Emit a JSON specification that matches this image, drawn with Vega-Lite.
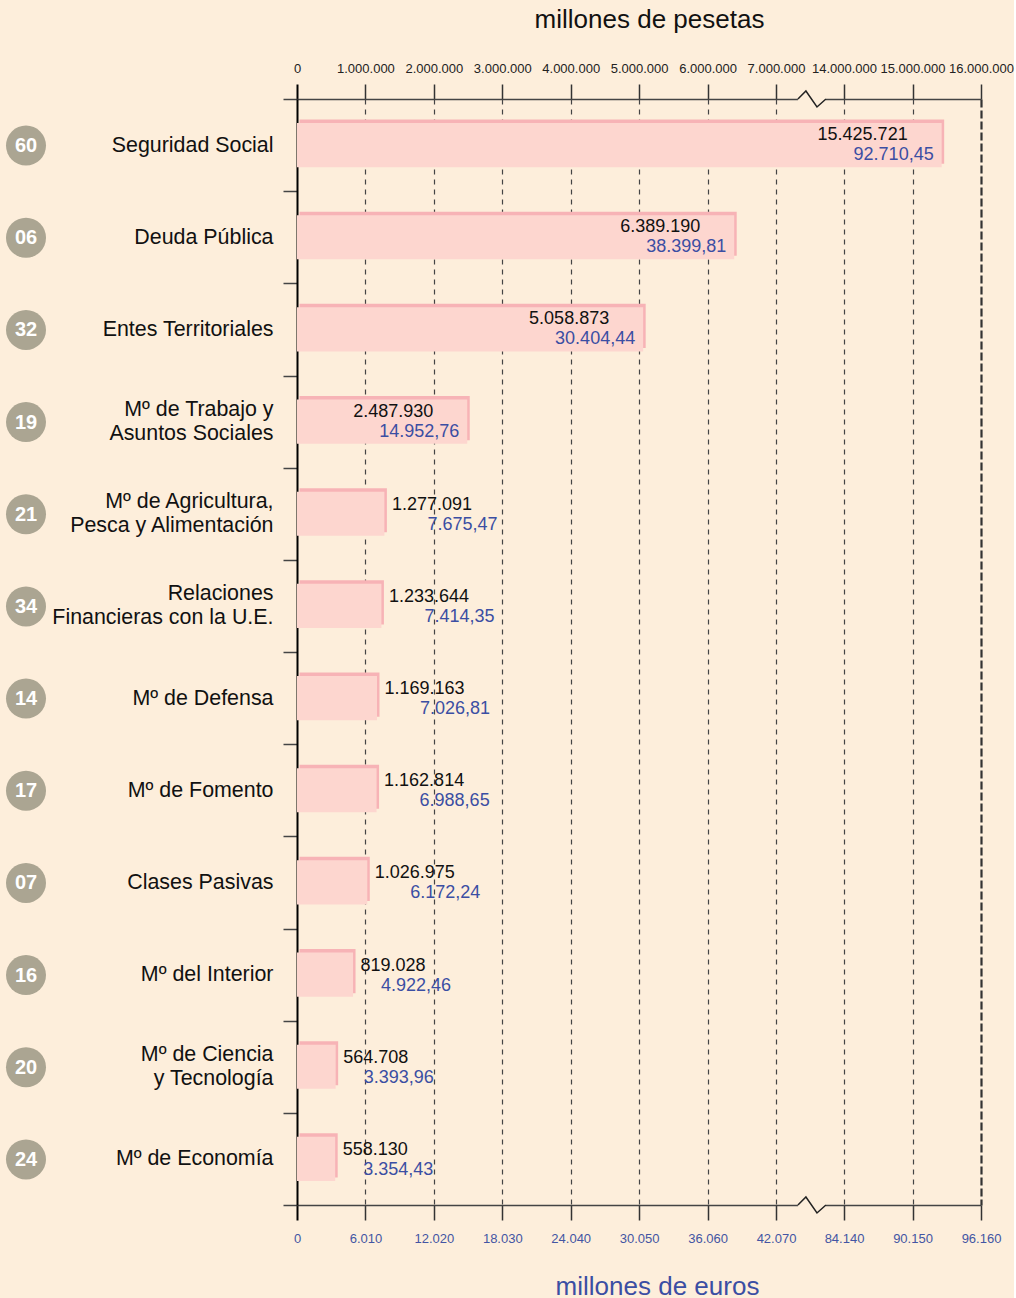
{
  "$schema": "https://vega.github.io/schema/vega-lite/v6.json",
  "background": "#fdeedb",
  "padding": {"left": 0, "top": 6, "right": 0, "bottom": 0},
  "config": {
    "view": {"stroke": null},
    "font": "Liberation Sans",
    "locale": {"number": {"decimal": ",", "thousands": ".", "grouping": [3], "currency": ["", " €"]}}
  },
  "datasets": {
    "ministerios": [
      {"codigo": "60", "seccion": "Seguridad Social", "pesetas": 15425721, "euros": 92710.45},
      {"codigo": "06", "seccion": "Deuda Pública", "pesetas": 6389190, "euros": 38399.81},
      {"codigo": "32", "seccion": "Entes Territoriales", "pesetas": 5058873, "euros": 30404.44},
      {"codigo": "19", "seccion": "Mº de Trabajo y\nAsuntos Sociales", "pesetas": 2487930, "euros": 14952.76},
      {"codigo": "21", "seccion": "Mº de Agricultura,\nPesca y Alimentación", "pesetas": 1277091, "euros": 7675.47},
      {"codigo": "34", "seccion": "Relaciones\nFinancieras con la U.E.", "pesetas": 1233644, "euros": 7414.35},
      {"codigo": "14", "seccion": "Mº de Defensa", "pesetas": 1169163, "euros": 7026.81},
      {"codigo": "17", "seccion": "Mº de Fomento", "pesetas": 1162814, "euros": 6988.65},
      {"codigo": "07", "seccion": "Clases Pasivas", "pesetas": 1026975, "euros": 6172.24},
      {"codigo": "16", "seccion": "Mº del Interior", "pesetas": 819028, "euros": 4922.46},
      {"codigo": "20", "seccion": "Mº de Ciencia\ny Tecnología", "pesetas": 564708, "euros": 3393.96},
      {"codigo": "24", "seccion": "Mº de Economía", "pesetas": 558130, "euros": 3354.43}
    ]
  },
  "bounds": "flush",
  "spacing": 245,
  "hconcat": [
    {
      "width": 52,
      "height": 1106,
      "data": {"name": "ministerios"},
      "encoding": {
        "y": {"field": "seccion", "type": "nominal", "sort": null, "axis": null, "scale": {"paddingInner": 0, "paddingOuter": 0}}
      },
      "layer": [
        {"mark": {"type": "point", "shape": "circle", "filled": true, "size": 1600, "color": "#aba592", "opacity": 1, "strokeWidth": 0, "yOffset": 0.5}},
        {"mark": {"type": "text", "color": "#ffffff", "fontWeight": "bold", "fontSize": 20, "baseline": "middle", "align": "center", "dy": 1},
         "encoding": {"text": {"field": "codigo"}}}
      ]
    },
    {
      "width": 684,
      "height": 1106,
      "data": {"name": "ministerios"},
      "encoding": {
        "y": {
          "field": "seccion", "type": "nominal", "sort": null,
          "scale": {"paddingInner": 0, "paddingOuter": 0},
          "axis": {
            "orient": "left", "title": null,
            "labelExpr": "split(datum.label, '\\n')",
            "labelFontSize": 21.4, "labelColor": "#111111", "labelPadding": 10, "labelLineHeight": 24, "labelLimit": 400,
            "labelOffset": {"condition": {"test": "indexof(datum.label, '\\n') >= 0", "value": -12}, "value": 0},
            "tickSize": 14, "tickBand": "extent", "tickColor": "#444444", "tickWidth": 1.5,
            "domainColor": "#000000", "domainWidth": 2
          }
        }
      },
      "resolve": {"axis": {"x": "independent"}},
      "layer": [
        {
          "mark": {"type": "bar", "color": "#f7b3b6", "xOffset": 2.5, "yOffset": -3.5, "height": {"band": 0.48}},
          "encoding": {
            "x": {
              "field": "pesetas", "type": "quantitative",
              "scale": {"domain": [0, 7000000, 14000000, 16000000], "range": [0, 479, 547, 684], "nice": false, "zero": false},
              "axis": {
                "orient": "top",
                "values": [0, 1000000, 2000000, 3000000, 4000000, 5000000, 6000000, 7000000, 14000000, 15000000, 16000000],
                "labelExpr": "format(datum.value, ',')",
                "labelFont": "Liberation Sans", "labelFontSize": 13, "labelColor": "#222222", "labelPadding": 9,
                "labelFlush": false, "labelOverlap": false,
                "tickSize": 15,
                "tickColor": {"condition": {"test": "datum.value === 0", "value": "#000000"}, "value": "#333333"},
                "tickWidth": {"condition": {"test": "datum.value === 0", "value": 2}, "value": 1.5},
                "domainColor": "#444444", "domainWidth": 1.5,
                "grid": true,
                "gridColor": {"condition": [{"test": "datum.value === 0", "value": "transparent"}, {"test": "datum.value === 16000000", "value": "#333333"}], "value": "#444444"},
                "gridDash": {"condition": {"test": "datum.value === 16000000", "value": [8, 3]}, "value": [5, 5]},
                "gridWidth": {"condition": {"test": "datum.value === 16000000", "value": 2.2}, "value": 1.2},
                "title": "millones de pesetas",
                "titleFont": "Liberation Sans", "titleFontSize": 26, "titleFontWeight": "normal", "titleColor": "#111111",
                "titleX": 352, "titleY": -72, "titleBaseline": "alphabetic", "titleAlign": "center"
              }
            }
          }
        },
        {
          "mark": {"type": "bar", "color": "#fdd6cf", "height": {"band": 0.48}},
          "encoding": {
            "x": {
              "field": "pesetas", "type": "quantitative",
              "scale": {"domain": [0, 7000000, 14000000, 16000000], "range": [0, 479, 547, 684], "nice": false, "zero": false},
              "axis": {
                "orient": "bottom",
                "values": [0, 1000000, 2000000, 3000000, 4000000, 5000000, 6000000, 7000000, 14000000, 15000000, 16000000],
                "labelExpr": "format(datum.value / 1000000 * 6010, ',')",
                "labelFont": "Liberation Sans", "labelFontSize": 13, "labelColor": "#4355a3", "labelPadding": 12,
                "labelFlush": false, "labelOverlap": false,
                "tickSize": 15,
                "tickColor": {"condition": {"test": "datum.value === 0", "value": "#000000"}, "value": "#333333"},
                "tickWidth": {"condition": {"test": "datum.value === 0", "value": 2}, "value": 1.5},
                "domainColor": "#444444", "domainWidth": 1.5,
                "grid": false,
                "title": "millones de euros",
                "titleFont": "Liberation Sans", "titleFontSize": 26, "titleFontWeight": "normal", "titleColor": "#3b4ea3",
                "titleX": 360, "titleY": 89, "titleBaseline": "alphabetic", "titleAlign": "center"
              }
            }
          }
        },
        {
          "transform": [{"filter": "datum.pesetas >= 2000000"}],
          "mark": {"type": "text", "align": "right", "baseline": "middle", "dx": -34, "dy": -10, "fontSize": 18, "color": "#111111"},
          "encoding": {
            "x": {"field": "pesetas", "type": "quantitative", "axis": null,
                  "scale": {"domain": [0, 7000000, 14000000, 16000000], "range": [0, 479, 547, 684], "nice": false, "zero": false}},
            "text": {"field": "pesetas", "type": "quantitative", "format": ","}
          }
        },
        {
          "transform": [{"filter": "datum.pesetas >= 2000000"}],
          "mark": {"type": "text", "align": "right", "baseline": "middle", "dx": -8, "dy": 10, "fontSize": 18, "color": "#3b4ea3"},
          "encoding": {
            "x": {"field": "pesetas", "type": "quantitative", "axis": null,
                  "scale": {"domain": [0, 7000000, 14000000, 16000000], "range": [0, 479, 547, 684], "nice": false, "zero": false}},
            "text": {"field": "euros", "type": "quantitative", "format": ",.2f"}
          }
        },
        {
          "transform": [{"filter": "datum.pesetas < 2000000"}],
          "mark": {"type": "text", "align": "left", "baseline": "middle", "dx": 7.5, "dy": -9, "fontSize": 18, "color": "#111111"},
          "encoding": {
            "x": {"field": "pesetas", "type": "quantitative", "axis": null,
                  "scale": {"domain": [0, 7000000, 14000000, 16000000], "range": [0, 479, 547, 684], "nice": false, "zero": false}},
            "text": {"field": "pesetas", "type": "quantitative", "format": ","}
          }
        },
        {
          "transform": [{"filter": "datum.pesetas >= 1000000 && datum.pesetas < 2000000"}],
          "mark": {"type": "text", "align": "left", "baseline": "middle", "dx": 43, "dy": 11, "fontSize": 18, "color": "#3b4ea3"},
          "encoding": {
            "x": {"field": "pesetas", "type": "quantitative", "axis": null,
                  "scale": {"domain": [0, 7000000, 14000000, 16000000], "range": [0, 479, 547, 684], "nice": false, "zero": false}},
            "text": {"field": "euros", "type": "quantitative", "format": ",.2f"}
          }
        },
        {
          "transform": [{"filter": "datum.pesetas < 1000000"}],
          "mark": {"type": "text", "align": "left", "baseline": "middle", "dx": 28, "dy": 11, "fontSize": 18, "color": "#3b4ea3"},
          "encoding": {
            "x": {"field": "pesetas", "type": "quantitative", "axis": null,
                  "scale": {"domain": [0, 7000000, 14000000, 16000000], "range": [0, 479, 547, 684], "nice": false, "zero": false}},
            "text": {"field": "euros", "type": "quantitative", "format": ",.2f"}
          }
        },
        {
          "data": {"values": [{}]},
          "mark": {"type": "point", "shape": "M-1,-0.2H1V0.2H-1Z", "filled": true, "color": "#fdeedb", "opacity": 1, "size": 784, "strokeWidth": 0},
          "encoding": {
            "x": {"datum": 10700000, "type": "quantitative", "axis": null,
                  "scale": {"domain": [0, 7000000, 14000000, 16000000], "range": [0, 479, 547, 684], "nice": false, "zero": false}},
            "y": {"value": 0}
          }
        },
        {
          "data": {"values": [{}]},
          "mark": {"type": "point", "shape": "M-1,-0.2H1V0.2H-1Z", "filled": true, "color": "#fdeedb", "opacity": 1, "size": 784, "strokeWidth": 0},
          "encoding": {
            "x": {"datum": 10700000, "type": "quantitative", "axis": null,
                  "scale": {"domain": [0, 7000000, 14000000, 16000000], "range": [0, 479, 547, 684], "nice": false, "zero": false}},
            "y": {"value": "height"}
          }
        },
        {
          "data": {"values": [{}]},
          "mark": {"type": "point", "shape": "M-1,0L-0.43,-0.57L0.36,0.57L1,0", "filled": false, "color": "#222222", "opacity": 1, "size": 784, "strokeWidth": 1.5},
          "encoding": {
            "x": {"datum": 10700000, "type": "quantitative", "axis": null,
                  "scale": {"domain": [0, 7000000, 14000000, 16000000], "range": [0, 479, 547, 684], "nice": false, "zero": false}},
            "y": {"value": 0}
          }
        },
        {
          "data": {"values": [{}]},
          "mark": {"type": "point", "shape": "M-1,0L-0.43,-0.57L0.36,0.57L1,0", "filled": false, "color": "#222222", "opacity": 1, "size": 784, "strokeWidth": 1.5},
          "encoding": {
            "x": {"datum": 10700000, "type": "quantitative", "axis": null,
                  "scale": {"domain": [0, 7000000, 14000000, 16000000], "range": [0, 479, 547, 684], "nice": false, "zero": false}},
            "y": {"value": "height"}
          }
        }
      ]
    }
  ]
}
